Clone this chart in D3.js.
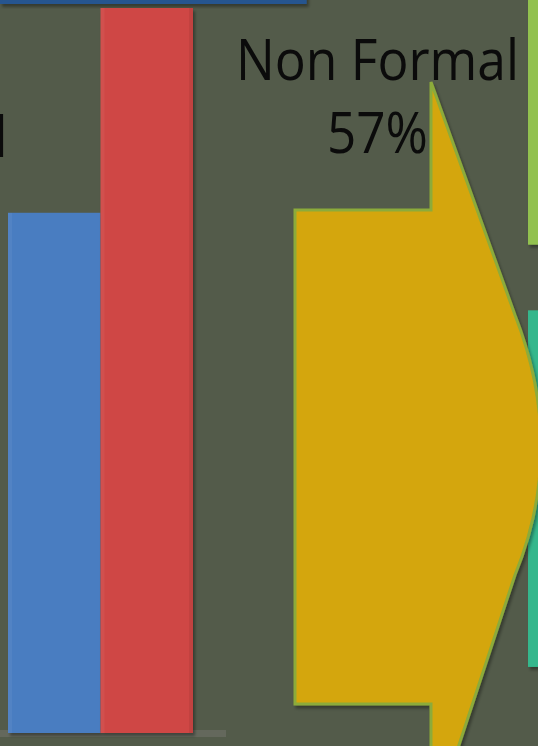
<!DOCTYPE html>
<html>
<head>
<meta charset="utf-8">
<script src="https://cdn.jsdelivr.net/npm/d3@7"></script>
<style>
  html, body { margin: 0; padding: 0; background: #535b4a; overflow: hidden; }
  svg { display: block; }
</style>
</head>
<body>
<div id="chart"></div>
<script>
// values
const seriesNames = ["Formal", "Non Formal"];
const barValues = [40.9, 57];
const barColors = ["#497dc1", "#cf4644"];
const calloutLines = ["Non Formal", "57%"];
const sideLabel = "Formal";
const topBarValue = 57;          // bar of the panel above, cut off
const sideSegments = [[0, 32.8], [41.6, 89.4]];   // column of the panel on the right
const sideColors = ["#92c14f", "#34b78c"];

const W = 538, H = 746;

const svg = d3.select("#chart").append("svg")
  .attr("width", W)
  .attr("height", H);

svg.append("rect").attr("width", W).attr("height", H).attr("fill", "#535b4a");

const defs = svg.append("defs");
defs.append("filter").attr("id", "shadow")
  .attr("x", "-10%").attr("y", "-10%").attr("width", "130%").attr("height", "130%")
  .append("feDropShadow")
    .attr("dx", 2).attr("dy", 3).attr("stdDeviation", 1.5)
    .attr("flood-color", "#000").attr("flood-opacity", 0.35);

// scales
const x = d3.scaleBand().domain(seriesNames).range([8, 193]).paddingInner(0).paddingOuter(0);
const y = d3.scaleLinear().domain([0, 57]).range([733, 8]);
const hx = d3.scaleLinear().domain([0, 100]).range([0, W]);
const sy = d3.scaleLinear().domain([0, 100]).range([0, H]);

// top bar (panel above)
svg.append("rect")
  .attr("x", hx(0)).attr("y", -20)
  .attr("width", hx(topBarValue) - hx(0)).attr("height", 24)
  .attr("fill", "#27548f")
  .attr("filter", "url(#shadow)");

// baseline
svg.append("rect")
  .attr("x", 0).attr("y", 730)
  .attr("width", 226).attr("height", 7)
  .attr("fill", "#64685c");

// bars
const bars = svg.selectAll(".bar")
  .data(barValues)
  .join("rect")
    .attr("class", "bar")
    .attr("x", (d, i) => x(seriesNames[i]))
    .attr("y", d => y(d))
    .attr("width", x.bandwidth())
    .attr("height", d => y(0) - y(d))
    .attr("fill", (d, i) => barColors[i])
    .attr("filter", "url(#shadow)");

// thin bevel strips on the bar edges
svg.selectAll(".edge-l")
  .data(barValues)
  .join("rect")
    .attr("class", "edge-l")
    .attr("x", (d, i) => x(seriesNames[i]))
    .attr("y", d => y(d))
    .attr("width", 4)
    .attr("height", d => y(0) - y(d))
    .attr("fill", "#fff").attr("opacity", 0.05);
svg.append("rect")
  .attr("x", x(seriesNames[1]) + x.bandwidth() - 4)
  .attr("y", y(barValues[1]))
  .attr("width", 4)
  .attr("height", y(0) - y(barValues[1]))
  .attr("fill", "#000").attr("opacity", 0.06);

// side column segments
svg.selectAll(".seg")
  .data(sideSegments)
  .join("rect")
    .attr("class", "seg")
    .attr("x", 528).attr("y", d => sy(d[0]) - (d[0] === 0 ? 20 : 0))
    .attr("width", 30)
    .attr("height", d => sy(d[1]) - sy(d[0]) + (d[0] === 0 ? 20 : 0))
    .attr("fill", (d, i) => sideColors[i])
    .attr("filter", "url(#shadow)");

// callout arrow
const bodyL = 295, bodyR = 431, bodyT = 210, bodyB = 704;
const tipT = 82, tipB = 830, headX = 515, headY0 = 315, headY1 = 575, headCx = 567, headCy = 448;
const p = d3.path();
p.moveTo(bodyL, bodyT);
p.lineTo(bodyR, bodyT);
p.lineTo(bodyR, tipT);
p.lineTo(headX, headY0);
p.quadraticCurveTo(headCx, headCy, headX, headY1);
p.lineTo(bodyR, tipB);
p.lineTo(bodyR, bodyB);
p.lineTo(bodyL, bodyB);
p.closePath();

svg.append("path")
  .attr("d", p.toString())
  .attr("fill", "#d4a60a")
  .attr("stroke", "#8cab3a")
  .attr("stroke-width", 3)
  .attr("stroke-linejoin", "miter")
  .attr("filter", "url(#shadow)");

// texts
const font = "'Open Sans', 'DejaVu Sans', sans-serif";
const lineWidths = [283, 101];
svg.selectAll(".callout")
  .data(calloutLines)
  .join("text")
    .attr("class", "callout")
    .attr("x", 377.5)
    .attr("y", (d, i) => 80 + i * 73)
    .attr("text-anchor", "middle")
    .attr("font-family", font)
    .attr("font-size", 56)
    .attr("fill", "#0b0b0b")
    .attr("textLength", (d, i) => lineWidths[i])
    .attr("lengthAdjust", "spacingAndGlyphs")
    .text(d => d);

svg.append("text")
  .attr("x", 8)
  .attr("y", 157)
  .attr("text-anchor", "end")
  .attr("font-family", font)
  .attr("font-size", 56)
  .attr("fill", "#0b0b0b")
  .text(sideLabel);
</script>
</body>
</html>
